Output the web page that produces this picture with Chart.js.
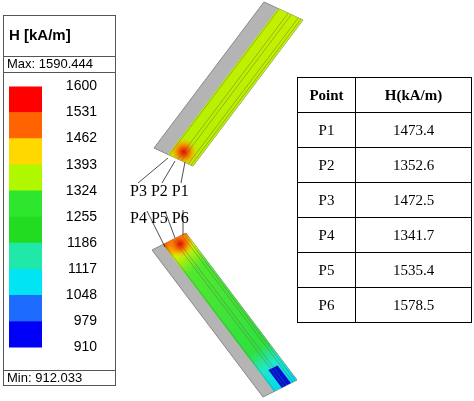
<!DOCTYPE html>
<html><head><meta charset="utf-8">
<script src="https://cdn.jsdelivr.net/npm/chart.js@4"></script>
<style>
body{margin:0;background:#fff;width:474px;height:401px;position:relative;overflow:hidden;font-family:Arial,"Liberation Sans",sans-serif}
#lbox{position:absolute;left:3px;top:15px;width:113px;height:371px;border:1px solid #555;box-sizing:border-box}
.row{position:absolute;left:0;right:0;border-bottom:1px solid #555;box-sizing:border-box}
#title{top:0;height:41px;font-weight:bold;font-size:15px;padding:10px 0 0 5px}
#max{top:40px;height:17px;font-size:13px;padding:0 0 0 3px;line-height:16px}
#min{bottom:0;height:15px;font-size:13px;border-bottom:none;border-top:1px solid #555;padding-left:3px;line-height:14px}
#legc{position:absolute;left:9px;top:78px;width:88px;height:278px}
#geo{position:absolute;left:0;top:0}
.pl{position:absolute;font-family:"Liberation Serif","DejaVu Serif",serif;font-size:16px}
table{position:absolute;left:297px;top:77px;border-collapse:collapse;font-family:"Liberation Serif",serif;font-size:15px}
td{border:1px solid #000;height:34px;text-align:center;padding:0}
</style></head><body>
<canvas id="geo" width="474" height="401"></canvas>
<div id="lbox"><div class="row" id="title">H [kA/m]</div><div class="row" id="max"></div><div class="row" id="min"></div></div>
<div id="legc"><canvas id="leg"></canvas></div>
<div class="pl" style="left:130px;top:182px">P3 P2 P1</div>
<div class="pl" style="left:130px;top:209px">P4 P5 P6</div>
<table id="tbl"></table>
<script>
const levels=[910,979,1048,1117,1186,1255,1324,1393,1462,1531,1600];
const levelColors=["#0000f8","#1e6cff","#00e4f4","#20e8a8","#22dc22","#2ee62e","#b0f800","#ffd800","#ff6400","#ff0000"];
const hMax=1590.444, hMin=912.033;
const points=["P1","P2","P3","P4","P5","P6"];
const hValues=[1473.4,1352.6,1472.5,1341.7,1535.4,1578.5];

document.getElementById('max').textContent='Max: '+hMax.toFixed(3);
document.getElementById('min').textContent='Min:  '+hMin.toFixed(3);
let h='<tr><td style="width:57px;font-weight:bold">Point</td><td style="width:115px;font-weight:bold">H(kA/m)</td></tr>';
points.forEach((p,i)=>{h+='<tr><td>'+p+'</td><td>'+hValues[i].toFixed(1)+'</td></tr>';});
document.getElementById('tbl').innerHTML=h;

new Chart(document.getElementById('leg'),{type:'bar',
 data:{labels:['H'],datasets:levelColors.map((c,i)=>({data:[[levels[i],levels[i+1]]],backgroundColor:c,barPercentage:1,categoryPercentage:1,borderWidth:0}))},
 options:{responsive:true,maintainAspectRatio:false,animation:false,layout:{padding:{top:7,bottom:7}},
  plugins:{legend:{display:false},tooltip:{enabled:false}},
  scales:{x:{display:false,stacked:true},
   y:{position:'right',min:910,max:1600,afterBuildTicks:a=>{a.ticks=levels.map(v=>({value:v}));},afterFit:a=>{a.width=55;},
    grid:{display:false},border:{display:false},
    ticks:{color:'#000',font:{size:14,family:'Arial'},crossAlign:'far',padding:0,autoSkip:false,callback:v=>String(v)}}}}});

function magnet(ctx,A,W,L,gf,stops,hot,blue){
 const P=(s,t)=>[A[0]+W[0]*s+L[0]*t,A[1]+W[1]*s+L[1]*t];
 const quad=(s0,s1,t0,t1)=>{ctx.beginPath();let p=P(s0,t0);ctx.moveTo(p[0],p[1]);p=P(s1,t0);ctx.lineTo(p[0],p[1]);p=P(s1,t1);ctx.lineTo(p[0],p[1]);p=P(s0,t1);ctx.lineTo(p[0],p[1]);ctx.closePath();};
 quad(0,1,0,1);ctx.fillStyle='#b4b4b4';ctx.fill();ctx.strokeStyle='#888';ctx.lineWidth=1;ctx.stroke();
 const p0=P(0.6,0),p1=P(0.6,1);const g=ctx.createLinearGradient(p0[0],p0[1],p1[0],p1[1]);
 stops.forEach(s=>g.addColorStop(s[0],s[1]));
 quad(gf,1,0,1);ctx.fillStyle=g;ctx.fill();
 if(blue){quad(blue[0],blue[1],blue[2],blue[3]);ctx.fillStyle='#0010d8';ctx.fill();}
 const c=P(hot[0],hot[1]);const rg=ctx.createRadialGradient(c[0],c[1],0,c[0],c[1],14);
 rg.addColorStop(0,'rgba(230,0,0,1)');rg.addColorStop(0.45,'rgba(255,100,0,0.8)');rg.addColorStop(1,'rgba(255,200,0,0)');
 ctx.save();quad(gf,1,0,1);ctx.clip();ctx.fillStyle=rg;ctx.fillRect(c[0]-20,c[1]-20,40,40);ctx.restore();
 ctx.strokeStyle='rgba(90,110,60,0.55)';ctx.lineWidth=0.8;
 [gf+0.03,0.62,0.7,0.88,0.95].forEach(s=>{const a=P(s,0),b=P(s,1);ctx.beginPath();ctx.moveTo(a[0],a[1]);ctx.lineTo(b[0],b[1]);ctx.stroke();});
}
const geoPlugin={id:'geo',afterDraw(ch){const ctx=ch.ctx;ctx.save();
 magnet(ctx,[154,148],[39,18],[110,-146],0.36,[[0,'#c8e800'],[0.15,'#b8f000'],[1,'#c4f000']],[0.62,0.05]);
 magnet(ctx,[152,250],[34,-17],[111,147],0.32,[[0,'#ff5a00'],[0.08,'#d8f000'],[0.2,'#50e830'],[0.75,'#30e040'],[0.86,'#20e8c8'],[1,'#00d8f0']],[0.7,0.04],[0.55,0.82,0.88,1]);
 ctx.strokeStyle='#222';ctx.lineWidth=0.8;
 [[[138,183],[168,158]],[[162,183],[175,161]],[[181,183],[185,162]],[[147,211],[165,247]],[[165,211],[175,238]],[[183,210],[183,235]]].forEach(l=>{ctx.beginPath();ctx.moveTo(l[0][0],l[0][1]);ctx.lineTo(l[1][0],l[1][1]);ctx.stroke();});
 ctx.restore();}};
new Chart(document.getElementById('geo'),{type:'scatter',data:{datasets:[{data:[]}]},
 options:{responsive:false,devicePixelRatio:1,animation:false,layout:{padding:0},plugins:{legend:{display:false},tooltip:{enabled:false}},
  scales:{x:{display:false,min:0,max:474},y:{display:false,min:0,max:401,reverse:true}}},plugins:[geoPlugin]});
</script></body></html>
